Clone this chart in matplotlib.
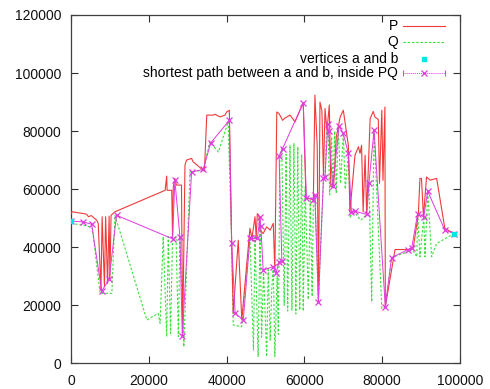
import matplotlib
matplotlib.use("Agg")
import matplotlib.pyplot as plt
from matplotlib.lines import Line2D

plt.rcParams['font.family'] = ['Liberation Sans', 'DejaVu Sans']

# Polygon chain P (red)
P_x = [0, 300, 4000, 4500, 5200, 6600, 7000, 7700, 8000, 8600, 8900, 9400, 9800, 10000, 10300,
       11300, 24200, 24600, 24700, 25900, 26100, 26300, 26700, 27100, 28400, 28700, 29300, 29700,
       31000, 31400, 34000, 34300, 34900, 36600, 37000, 38300, 39600, 40000, 40700, 41300, 41700,
       43000, 43900, 46000, 46500, 47300, 47600, 47900, 48300, 48600, 49400, 50300, 51200, 52000,
       52400, 52900, 53500, 54400, 55000, 56300, 57600, 59700, 60400, 62300, 62700, 63300, 63600,
       64000, 64500, 64900, 65300, 65800, 66400, 66800, 67500, 68200, 69200, 70000, 71300, 71700,
       73000, 73900, 74300, 74700, 75100, 75600, 76000, 76900, 77700, 78100, 79000, 79300, 79900,
       80200, 80700, 80800, 83300, 86700, 88000, 89300, 89700, 90100, 90600, 91400, 92300, 94000,
       96100, 98500]
P_y = [51600, 52200, 51400, 50500, 50900, 49300, 48200, 25200, 50500, 26400, 50500, 27500, 50700,
       29300, 51000, 52200, 59600, 64500, 59600, 59600, 42900, 60800, 63700, 61400, 61400, 9200,
       68300, 70000, 70600, 69400, 66500, 66200, 85500, 85500, 85800, 84900, 85500, 86600, 87200,
       41600, 17200, 42400, 14900, 46500, 43000, 50500, 43500, 51600, 50900, 45900, 44700, 47000,
       45900, 48200, 32100, 86600, 86000, 83700, 84500, 85500, 83200, 89800, 57000, 56400, 92400,
       74600, 21200, 90000, 87000, 64800, 87800, 80000, 89000, 61000, 60500, 78000, 84900, 87200,
       75100, 52200, 71700, 74600, 72300, 75100, 52200, 71700, 51600, 84300, 86800, 84900, 84000,
       62000, 87200, 63000, 88300, 19500, 39200, 39200, 39900, 51600, 63700, 63700, 50500, 64200,
       63100, 63700, 46500, 44700]

# Polygon chain Q (green)
Q_x = [0, 3200, 4900, 5500, 6500, 7500, 10500, 11300, 19500, 22400, 22900, 23700, 24600, 25000,
       25600, 26100, 27000, 27600, 28000, 29000, 30600, 34000, 35700, 37900, 40400, 41300, 41700,
       43900, 46000, 46900, 47300, 48100, 48600, 49000, 49500, 50300, 50700, 51200, 51600, 52000,
       52400, 53000, 53300, 53700, 54200, 54800, 55300, 55700, 56300, 56800, 57300, 57800, 58300,
       58800, 59300, 59700, 60200, 61000, 61500, 62000, 62300, 62700, 63600, 64900, 65300, 65700,
       66100, 66500, 67000, 67300, 67800, 68200, 68700, 69300, 70000, 70500, 71300, 71800, 72100,
       73000, 74500, 76000, 76600, 77300, 77900, 79900, 80800, 82400, 86700, 87600, 88900, 89100,
       89700, 90700, 91000, 91700, 92700, 94000, 98500]
Q_y = [48200, 47600, 47000, 46500, 35000, 24100, 24100, 51000, 14900, 17200, 13800, 43600, 9200,
       43600, 10300, 42900, 43600, 9200, 43600, 5700, 65900, 66500, 76300, 72800, 83200, 41600,
       13200, 12600, 43600, 4600, 43500, 2300, 47000, 9000, 32100, 2300, 33000, 8000, 25200, 33800,
       2300, 30000, 10000, 72000, 74000, 20000, 72000, 18000, 75000, 18300, 75700, 17000, 74600,
       18300, 72000, 18000, 60800, 22000, 56000, 23000, 56400, 57900, 21200, 63700, 64200, 80000,
       79700, 58000, 78000, 60800, 80000, 58500, 81400, 62000, 79200, 60000, 72300, 50000, 51800,
       51800, 49300, 51300, 62200, 21200, 80300, 18900, 19500, 36400, 38500, 39500, 36700, 51600,
       36700, 50500, 36700, 59300, 36700, 41300, 44700]

# End vertices a and b
V_x = [0, 98500]
V_y = [49000, 44700]

# Shortest path between a and b inside PQ
S_x = [0, 3200, 5300, 7900, 9800, 11700, 26100, 26700, 28000, 28600, 31000, 34000, 35900, 40700,
       41300, 42200, 44300, 46000, 46400, 47900, 48600, 48800, 49400, 52000, 52700, 53500, 54200,
       53500, 54400, 59700, 60500, 62300, 62700, 63600, 64900, 65300, 66000, 66200, 67300, 68900,
       70000, 71300, 72100, 73000, 76000, 76600, 77900, 80800, 82400, 86700, 87600, 89100, 90700,
       91700, 96100, 98500]
S_y = [49000, 48700, 47900, 24900, 28900, 51000, 42900, 63100, 43600, 9400, 65900, 66800, 75900,
       83700, 41600, 17200, 14900, 43100, 43000, 43000, 50500, 47300, 32100, 33300, 31000, 35000,
       35300, 71300, 74000, 89700, 57100, 56400, 57900, 21200, 63700, 64200, 82300, 79900, 61000,
       81600, 79200, 72300, 52000, 52400, 51300, 62200, 80300, 19500, 36400, 39200, 39800, 51600,
       50500, 59300, 45900, 44700]

x_ticks = [0, 20000, 40000, 60000, 80000, 100000]
y_ticks = [0, 20000, 40000, 60000, 80000, 100000, 120000]
labels = ["P", "Q", "vertices a and b", "shortest path between a and b, inside PQ"]

RED = '#f03a3a'
GREEN = '#3ee03e'
CYAN = '#00e5e5'
MAG = '#e03ae0'

fig = plt.figure(figsize=(4.9, 3.89), dpi=100)
ax = fig.add_axes([71 / 490, (389 - 363.3) / 389, 389 / 490, 348.3 / 389])

ax.plot(Q_x, Q_y, color=GREEN, lw=0.8, dashes=(2.2, 1.6), zorder=2)
ax.plot(P_x, P_y, color=RED, lw=0.8, zorder=3)
ax.plot(S_x, S_y, color=MAG, lw=0.7, marker='x', ms=4, mew=0.9, zorder=4)
ax.plot(V_x, V_y, linestyle='none', marker='s', ms=3.5, color=CYAN, zorder=5)

ax.set_xlim(0, 100000)
ax.set_ylim(0, 120000)
ax.set_xticks(x_ticks)
ax.set_yticks(y_ticks)
ax.set_xticklabels([str(v) for v in x_ticks])
ax.set_yticklabels([str(v) for v in y_ticks])
ax.tick_params(direction='in', top=True, right=True, length=5, width=0.8,
               color='#303030', labelsize=10, labelcolor='#111111')
ax.tick_params(axis='x', pad=7.5)
ax.tick_params(axis='y', pad=7)
for s in ax.spines.values():
    s.set_color('#404040')
    s.set_linewidth(0.9)

# Legend (gnuplot style: right-aligned texts, samples to the right)
rows = [0.968, 0.922, 0.873, 0.833]
tx = 0.841
x0, x1 = 0.853, 0.961
ax.text(tx, rows[0], labels[0], transform=ax.transAxes, ha='right', va='center', fontsize=10)
ax.add_line(Line2D([x0, x1], [rows[0]] * 2, transform=ax.transAxes, color=RED, lw=0.8))
ax.text(tx, rows[1], labels[1], transform=ax.transAxes, ha='right', va='center', fontsize=10)
ax.add_line(Line2D([x0, x1], [rows[1]] * 2, transform=ax.transAxes, color=GREEN, lw=0.8,
                   dashes=(2.2, 1.6)))
ax.text(tx, rows[2], labels[2], transform=ax.transAxes, ha='right', va='center', fontsize=10)
ax.add_line(Line2D([(x0 + x1) / 2], [rows[2]], transform=ax.transAxes, linestyle='none',
                   marker='s', ms=3.5, color=CYAN))
ax.text(tx, rows[3], labels[3], transform=ax.transAxes, ha='right', va='center', fontsize=10)
ax.add_line(Line2D([x0, x1], [rows[3]] * 2, transform=ax.transAxes, color=MAG, lw=0.7,
                   dashes=(1, 1)))
ax.add_line(Line2D([(x0 + x1) / 2], [rows[3]], transform=ax.transAxes, linestyle='none',
                   marker='x', ms=4, mew=0.9, color=MAG))
ax.add_line(Line2D([x0, x1], [rows[3]] * 2, transform=ax.transAxes, linestyle='none',
                   marker='|', ms=4, mew=0.7, color=MAG))

fig.savefig('out.png', dpi=100)
